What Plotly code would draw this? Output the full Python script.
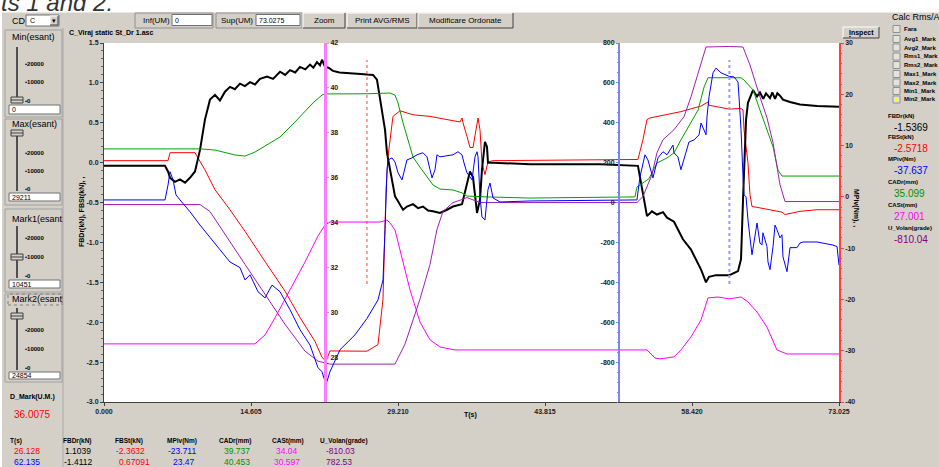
import plotly.graph_objects as go

FONT = "Liberation Sans, Arial, sans-serif"

# ---------------- data ----------------
T_MAX = 73.025
MARK1_T = 26.128
MARK2_T = 62.135
X_TICKS = [0.0, 14.605, 29.210, 43.815, 58.420, 73.025]

# (time s, value) samples per channel
FBDR = [(0, -0.04), (4.57, -0.04), (6.06, -0.04), (6.36, -0.11), (6.56, -0.19), (7.05, -0.24), (7.55, -0.21),
        (8.05, -0.25), (8.54, -0.19), (9.04, -0.11), (9.54, 0.16), (10.03, 0.54), (10.53, 0.79), (11.03, 0.85),
        (11.52, 0.78), (12.02, 0.89), (12.52, 0.95), (13.0, 0.92), (13.51, 0.99), (14.0, 0.96), (14.51, 1.01),
        (15.0, 0.98), (15.5, 1.05), (16.2, 1.08), (16.8, 1.05), (17.49, 1.14), (18.0, 1.10), (18.48, 1.16),
        (19.0, 1.13), (19.47, 1.2), (20.0, 1.17), (20.47, 1.23), (20.8, 1.19), (21.16, 1.26), (21.46, 1.22),
        (21.66, 1.29), (21.96, 1.2), (22.3, 1.19), (22.75, 1.15), (23.4, 1.13), (24.14, 1.12), (25.5, 1.11),
        (26.128, 1.1039), (26.73, 1.1), (27.12, 1.04), (27.42, 0.82), (27.92, 0.41), (28.12, 0.12), (28.41, -0.09),
        (28.91, -0.42), (29.71, -0.59), (30.10, -0.55), (30.70, -0.52), (31.2, -0.57), (31.69, -0.55), (32.2, -0.6),
        (32.69, -0.61), (33.38, -0.63), (34.08, -0.59), (34.67, -0.55), (35.57, -0.52), (35.87, -0.37),
        (36.36, -0.11), (36.66, -0.18), (37.06, -0.63), (37.36, -0.46), (37.55, -0.09), (37.85, 0.26), (38.05, 0.2),
        (38.15, 0.0), (38.65, 0.0), (42.32, -0.02), (49.28, -0.02), (53.05, -0.04), (53.55, -0.4), (53.95, -0.67),
        (54.44, -0.61), (54.94, -0.65), (55.54, -0.62), (55.94, -0.69), (56.63, -0.74), (57.52, -0.96),
        (58.32, -1.09), (59.32, -1.34), (59.81, -1.5), (60.11, -1.43), (60.80, -1.41), (62.135, -1.4112),
        (62.99, -1.36), (63.29, -1.21), (63.49, -0.46), (63.79, 0.54), (63.98, 0.75), (64.48, 0.91), (64.88, 0.83),
        (65.17, 0.88), (65.5, 0.8), (65.77, 0.87), (66.17, 0.81), (66.4, 0.88), (66.67, 0.80), (66.9, 0.87),
        (67.16, 0.84), (67.46, 0.79), (68.16, 0.76), (69.15, 0.73), (70.84, 0.71), (73.025, 0.70)]

FBST = [(0, 0.025), (6.36, 0.025), (6.56, 0.125), (9.04, 0.125), (10.03, -0.09), (11.03, -0.34), (12.52, -0.59),
        (14.01, -0.86), (16.0, -1.24), (17.98, -1.61), (19.47, -1.94), (20.96, -2.24), (21.66, -2.44),
        (22.06, -2.49), (22.45, -2.36), (23.94, -2.36), (26.128, -2.3632), (27.22, -2.28), (27.72, -1.71),
        (28.02, -0.34), (28.22, 0.08), (28.71, 0.58), (29.41, 0.65), (30.70, 0.6), (32.39, 0.58), (34.08, 0.54),
        (35.37, 0.51), (35.57, 0.56), (35.67, 0.5), (36.06, 0.33), (36.36, 0.19), (36.66, 0.19), (37.06, 0.45),
        (37.16, 0.56), (37.36, 0.41), (37.55, 0.0), (37.85, -0.15), (38.15, 0.01), (38.65, 0.025), (53.05, 0.04),
        (53.55, 0.29), (53.95, 0.54), (54.24, 0.56), (57.32, 0.64), (59.32, 0.71), (60.01, 0.76), (60.11, 0.72),
        (62.135, 0.67091), (63.29, 0.68), (63.49, 0.66), (63.59, 0.41), (63.98, 0.0), (64.18, -0.40),
        (64.38, -0.55), (64.88, -0.56), (66.17, -0.59), (67.36, -0.62), (67.66, -0.65), (69.15, -0.61),
        (70.84, -0.59), (73.025, -0.59)]

MPIV = [(0, -0.6), (6.06, -0.6), (6.36, 2.3), (6.56, 4.9), (6.86, 3.3), (7.15, 0.4), (7.55, -0.6), (8.54, -2.9),
        (9.54, -5.5), (10.53, -8.0), (11.52, -10.3), (12.52, -12.7), (13.51, -13.8), (14.01, -16.2),
        (14.51, -15.2), (15.30, -18.5), (16.0, -19.7), (16.69, -17.2), (17.49, -18.5), (18.48, -22.0),
        (19.47, -25.9), (20.47, -28.9), (21.26, -33.3), (21.66, -34.1), (22.06, -36.6), (22.45, -34.1),
        (23.45, -29.8), (24.94, -26.9), (26.128, -23.711), (27.22, -20.1), (27.72, -16.2), (27.92, -6.4),
        (28.02, 0.0), (28.12, 5.3), (28.22, 7.2), (28.61, 7.6), (28.91, 6.8), (29.21, 4.7), (29.61, 3.3),
        (29.90, 5.8), (30.10, 7.2), (30.60, 7.6), (31.10, 8.2), (31.69, 8.6), (32.09, 7.8), (32.39, 5.3),
        (32.59, 3.7), (32.89, 5.3), (33.08, 8.2), (33.38, 7.8), (34.67, 8.2), (35.17, 8.8), (35.57, 8.2),
        (35.77, 6.6), (36.06, 4.7), (36.36, 3.9), (36.56, 3.3), (36.86, 7.8), (37.06, 8.8), (37.16, 7.8),
        (37.36, 0.0), (37.55, -3.9), (37.85, -4.5), (38.15, 1.4), (38.35, 2.7), (38.65, -0.2), (39.34, -1.0),
        (42.32, -0.8), (52.95, -0.6), (53.25, 3.9), (53.75, 8.2), (54.04, 7.2), (54.44, 3.9), (54.54, 3.7),
        (55.04, 7.6), (55.54, 8.8), (55.94, 8.2), (56.53, 10.1), (56.63, 8.6), (57.02, 7.8), (57.32, 5.3),
        (57.62, 7.2), (58.12, 10.7), (58.62, 11.1), (59.12, 12.1), (59.32, 14.4), (59.81, 12.1), (59.91, 15.6),
        (60.11, 19.5), (60.51, 24.2), (60.80, 25.1), (61.30, 24.2), (62.135, 23.47), (62.59, 23.4),
        (62.99, 22.4), (63.09, 19.5), (63.29, 13.1), (63.49, 3.9), (63.59, 0.4), (63.79, 0.0), (63.98, -4.5),
        (64.38, -11.3), (64.68, -7.8), (64.88, -5.1), (65.17, -9.0), (65.37, -9.4), (65.47, -7.0),
        (65.87, -9.7), (65.97, -12.7), (66.17, -14.2), (66.47, -9.7), (66.67, -5.5), (66.86, -6.4),
        (67.16, -8.0), (67.36, -7.4), (67.46, -11.7), (67.86, -14.6), (68.16, -9.9), (68.85, -9.9),
        (69.15, -9.0), (69.45, -8.8), (70.84, -8.8), (72.43, -9.4), (72.83, -9.7), (73.025, -13.3)]

CADR = [(0, 37.28), (9.54, 37.28), (11.03, 37.23), (13.01, 37.01), (14.01, 36.96), (15.0, 37.14), (16.0, 37.41),
        (17.49, 37.81), (19.17, 38.57), (20.76, 39.33), (21.66, 39.68), (21.96, 39.73), (26.128, 39.737),
        (28.41, 39.77), (28.91, 39.68), (29.21, 39.33), (29.71, 38.44), (30.20, 37.68), (30.70, 36.92),
        (31.39, 36.47), (32.09, 36.03), (32.69, 35.67), (33.38, 35.49), (34.67, 35.45), (35.57, 35.32),
        (36.06, 35.18), (38.05, 35.14), (42.32, 35.09), (52.75, 35.14), (52.95, 35.58), (54.14, 35.95),
        (54.94, 36.65), (55.94, 36.88), (56.63, 37.1), (57.32, 37.68), (58.32, 38.44), (59.02, 39.01),
        (59.62, 40.04), (60.01, 40.45), (62.135, 40.453), (63.29, 40.45), (63.59, 40.35), (64.18, 40.04),
        (64.48, 39.91), (65.17, 39.01), (65.87, 38.12), (66.47, 37.37), (66.96, 36.34), (67.36, 36.07),
        (73.025, 36.07)]

CAST = [(0, 28.59), (15.0, 28.59), (16.0, 28.99), (16.99, 29.75), (18.48, 31.0), (19.97, 32.24), (21.26, 33.40),
        (21.96, 33.89), (22.45, 34.02), (26.128, 34.04), (27.42, 34.02), (28.12, 34.11), (28.41, 33.98),
        (28.91, 33.67), (29.41, 32.78), (30.40, 31.0), (31.39, 29.57), (32.39, 28.77), (33.38, 28.45),
        (34.87, 28.32), (53.95, 28.32), (54.74, 27.96), (55.24, 27.92), (56.63, 28.01), (57.32, 28.32),
        (58.32, 28.9), (59.32, 29.66), (60.01, 30.64), (61.0, 30.68), (62.135, 30.597), (63.29, 30.68),
        (63.98, 30.46), (64.88, 30.01), (65.87, 29.34), (66.86, 28.32), (67.86, 28.14), (73.025, 28.14)]

UVOLAN = [(0, -10), (9.54, -10), (10.53, -45), (12.02, -160), (14.01, -310), (16.0, -460), (17.98, -610),
          (19.97, -745), (21.26, -795), (22.45, -810), (26.128, -810.03), (28.91, -810), (29.90, -710),
          (31.39, -485), (32.39, -310), (33.08, -135), (33.68, -45), (34.67, 0), (35.57, 15), (36.06, 25),
          (37.36, 0), (42.32, 0), (52.95, 0), (53.55, 30), (54.24, 115), (54.44, 140), (54.94, 250),
          (55.54, 315), (56.63, 365), (57.62, 430), (58.32, 530), (59.02, 650), (59.81, 780), (62.135, 782.53),
          (63.49, 780), (63.79, 740), (64.18, 690), (65.17, 530), (65.87, 425), (66.47, 300), (66.96, 165),
          (67.16, 90), (67.66, 5), (73.025, 5)]

HEADERS = ["T(s)", "FBDr(kN)", "FBSt(kN)", "MPiv(Nm)", "CADr(mm)", "CASt(mm)", "U_Volan(grade)"]
ROW_MARK1 = ["26.128", "1.1039", "-2.3632", "-23.711", "39.737", "34.04", "-810.03"]
ROW_MARK2 = ["62.135", "-1.4112", "0.67091", "23.47", "40.453", "30.597", "782.53"]
INSPECT_NAMES = ["FBDr(kN)", "FBSt(kN)", "MPiv(Nm)", "CADr(mm)", "CASt(mm)", "U_Volan(grade)"]
INSPECT_VALUES = ["-1.5369", "-2.5718", "-37.637", "35.099", "27.001", "-810.04"]
CALC_OPTIONS = ["Fara", "Avg1_Mark", "Avg2_Mark", "Rms1_Mark", "Rms2_Mark", "Max1_Mark", "Max2_Mark",
                "Min1_Mark", "Min2_Mark"]

# ---------------- styling ----------------
BG = "#d4d0c8"
C_BLACK = "#000000"
C_RED = "#ff0000"
C_BLUE = "#0000ff"
C_GREEN = "#00a000"
C_MAG = "#ff00ff"
C_PURPLE = "#a020b0"
COL_COLORS = [None, C_BLACK, C_RED, C_BLUE, "#009000", C_MAG, "#800080"]

# plot area in pixels
L, R, T, B = 104, 839, 43, 402
W, H = R - L, B - T


def fx(x):
    return (x - L) / W


def fy(y):
    return (B - y) / H


shapes = []
ann = []


def box(x0, y0, x1, y1, fill=None, line=None, lw=1, dash="solid"):
    shapes.append(dict(type="rect", xref="paper", yref="paper", x0=fx(x0), x1=fx(x1), y0=fy(y1), y1=fy(y0),
                       fillcolor=fill or "rgba(0,0,0,0)",
                       line=dict(color=line or "rgba(0,0,0,0)", width=lw if line else 0, dash=dash)))


def seg(x0, y0, x1, y1, color, lw=1, dash="solid"):
    shapes.append(dict(type="line", xref="paper", yref="paper", x0=fx(x0), x1=fx(x1), y0=fy(y0), y1=fy(y1),
                       line=dict(color=color, width=lw, dash=dash)))


def label(x, y, s, size=8, color="black", anchor="left", bold=False, angle=0, italic=False):
    ann.append(dict(xref="paper", yref="paper", x=fx(x), y=fy(y), text=s, showarrow=False, xanchor=anchor,
                    yanchor="middle", textangle=angle, borderpad=0,
                    font=dict(family=FONT, size=size, color=color, weight=700 if bold else 400,
                              style="italic" if italic else "normal")))


def button(x0, y0, x1, y1):
    box(x0, y0, x1, y1, fill=BG)
    seg(x0, y0, x1, y0, "#ffffff")
    seg(x0, y0, x0, y1, "#ffffff")
    seg(x0, y1, x1, y1, "#404040")
    seg(x1, y0, x1, y1, "#404040")


def textbox(x0, y0, x1, y1, s):
    box(x0, y0, x1, y1, fill="#ffffff", line="#707070")
    label(x0 + 2, (y0 + y1) / 2, s, size=7)


def group(x0, y0, x1, y1):
    box(x0, y0, x1, y1, line="#a0a0a0")


def slider(x, y_top, y_bot, thumb_y, ticks):
    seg(x, y_top, x, y_bot, "#505050", lw=2)
    box(x - 6, thumb_y - 3, x + 6, thumb_y + 3, fill=BG, line="#404040")
    seg(x - 6, thumb_y, x + 6, thumb_y, "#404040")
    for ty, tx in ticks:
        label(24, ty, "\u2022" + tx, size=6, bold=True)


# ---------------- window chrome ----------------
box(0, 0, 939, 12.5, fill="#ffffff")
box(0, 0, 2, 467, fill="#ffffff")
label(0, 3, "ts 1 and 2.", size=24, color="#333333", italic=True, anchor="left")

# top toolbar
box(135, 13, 213, 28, fill=BG, line="#909090")
label(142, 20.5, "Inf(UM)", size=8)
textbox(172, 14.5, 212, 25.5, "0")
box(216, 13, 302, 28, fill=BG, line="#909090")
label(220, 20.5, "Sup(UM)", size=8)
textbox(256, 14.5, 300, 25.5, "73.0275")
for bx0, bx1, txt in [(303, 345, "Zoom"), (347, 417, "Print AVG/RMS"), (418, 513, "Modificare Ordonate")]:
    button(bx0, 13, bx1, 28)
    label((bx0 + bx1) / 2, 20.5, txt, size=8, anchor="center")

# left control panel
label(11, 21, "CD", size=9)
box(26, 15, 59, 26, fill="#ffffff", line="#707070")
label(29, 20.5, "C", size=7)
button(50, 16, 58, 25)
label(54, 20.5, "\u25be", size=7, anchor="center")
seg(63, 28, 63, 467, "#a8a8a8")

group(5, 30, 62, 117)
label(11, 37, "Min(esant)", size=9)
slider(17, 47, 103, 100, [(64, "20000"), (82, "10000"), (101, "0")])
textbox(9, 105, 60, 114, "0")

group(5, 119, 62, 205)
label(11, 124, "Max(esant)", size=9)
slider(17, 130, 191, 133, [(153, "20000"), (171, "10000"), (189, "0")])
textbox(9, 193, 60, 201, "29211")

group(5, 209, 62, 292)
label(11, 219, "Mark1(esant", size=9)
slider(17, 226, 278, 257, [(238, "20000"), (257, "10000"), (276, "0")])
textbox(9, 280, 60, 288, "10451")

group(5, 294, 62, 382)
box(8, 294, 62, 305, line="#808080", dash="dot")
label(11, 299, "Mark2(esant", size=9)
slider(17, 308, 370, 316, [(330, "20000"), (349, "10000"), (368, "0")])
textbox(9, 372, 60, 379, "24854")

label(9, 397, "D_Mark(U.M.)", size=7, bold=True)
label(13, 414, "36.0075", size=10, color=C_RED)

# bottom table of marker values
head_x = [9, 62, 114, 166, 218, 271, 319]
r1_x = [13, 64, 115, 167, 223, 275, 325]
r2_x = [13, 63, 118, 172, 223, 273, 325]
for i, h in enumerate(HEADERS):
    label(head_x[i], 440.5, h, size=6.5, bold=True)
    label(r1_x[i], 451, ROW_MARK1[i], size=8.5, color=COL_COLORS[i] or C_RED)
    label(r2_x[i], 461.5, ROW_MARK2[i], size=8.5, color=COL_COLORS[i] or C_BLUE)

# right panel
button(843, 27, 879, 38)
label(861, 32.5, "<u>I</u>nspect", size=7, bold=True, anchor="center")
label(891, 17, "Calc Rms/Avg", size=9)
opt_y = [29, 39, 47.5, 56.5, 65, 74, 82.5, 91, 99.5]
for oy, name in zip(opt_y, CALC_OPTIONS):
    box(893, oy - 3.5, 900, oy + 3.5, fill="#e4e2dc", line="#909090")
    label(903, oy, name, size=6, bold=True)
box(895, 97.5, 898, 101.5, fill="#ffff00")
ins_y = [116, 137, 159, 182, 205, 228]
ins_c = [C_BLACK, C_RED, C_BLUE, "#009000", C_MAG, "#800080"]
for iy, nm, val, col in zip(ins_y, INSPECT_NAMES, INSPECT_VALUES, ins_c):
    label(887, iy, nm, size=6, bold=True)
    label(893, iy + 11, val, size=10, color=col)

# chart caption and axis titles
label(68, 33, "C_Viraj static St_Dr 1.asc", size=7, bold=True)
label(82, 212, "FBDr(kN), FBSt(kN), ,", size=7, bold=True, angle=-90, anchor="center")
label(856, 208, "MPiv(Nm), ,", size=7, bold=True, angle=90, anchor="center")
label(470, 415, "T(s)", size=7, bold=True, anchor="center")

# marker cursors
for t_mark, col, w in [(MARK1_T, "#ff4040", 1), (MARK2_T, "#9a9aff", 2)]:
    shapes.append(dict(type="line", xref="x", yref="paper", x0=t_mark, x1=t_mark, y0=fy(284), y1=fy(60),
                       line=dict(color=col, width=w, dash="dot")))

# ---------------- traces ----------------
fig = go.Figure()


def add(series, color, axis, width=1):
    fig.add_trace(go.Scatter(x=[p[0] for p in series], y=[p[1] for p in series], mode="lines",
                             line=dict(color=color, width=width), yaxis=axis, showlegend=False,
                             hoverinfo="skip"))


add(FBST, C_RED, "y")
add(FBDR, C_BLACK, "y", width=2)
add(CADR, C_GREEN, "y2")
add(CAST, C_MAG, "y2")
add(UVOLAN, C_PURPLE, "y3")
add(MPIV, C_BLUE, "y4")

tickfont = dict(family=FONT, size=7, color="#202020", weight=700)


def fmt(v, d):
    return f"{v:.{d}f}"


left_vals = [-3.0 + 0.5 * i for i in range(10)]
mag_vals = list(range(28, 43, 2))
blue_vals = list(range(-800, 801, 200))
red_vals = list(range(-40, 31, 10))

fig.update_layout(
    width=939, height=467,
    margin=dict(l=L, r=939 - R, t=T, b=467 - B, pad=0),
    paper_bgcolor=BG, plot_bgcolor="#ffffff",
    xaxis=dict(range=[0, T_MAX], tickvals=X_TICKS, ticktext=[fmt(v, 3) for v in X_TICKS], showgrid=False,
               zeroline=False, showline=True, linecolor="#404040", linewidth=1, ticks="outside", ticklen=3,
               tickcolor="#404040", tickfont=tickfont),
    yaxis=dict(range=[-3.0, 1.5], tickvals=left_vals, ticktext=[fmt(v, 1) for v in left_vals], showgrid=False,
               zeroline=False, showline=True, linecolor="#404040", linewidth=1, ticks="outside", ticklen=3,
               tickcolor="#404040", tickfont=tickfont,
               minor=dict(tickmode="linear", tick0=0, dtick=0.1, ticks="outside", ticklen=2,
                          tickcolor="#606060")),
    yaxis2=dict(range=[26, 42], overlaying="y", anchor="free", position=fx(325), side="right",
                tickvals=mag_vals, ticktext=[str(v) for v in mag_vals], showgrid=False, zeroline=False,
                showline=True, linecolor="#ff7aff", linewidth=3, ticks="outside", ticklen=2, tickcolor="#ff80ff",
                tickfont=tickfont),
    yaxis3=dict(range=[-1000, 800], overlaying="y", anchor="free", position=fx(619), side="left",
                tickvals=blue_vals, ticktext=[str(v) for v in blue_vals], showgrid=False, zeroline=False,
                showline=True, linecolor="#8080ff", linewidth=2, ticks="outside", ticklen=2, tickcolor="#8080ff",
                tickfont=tickfont,
                minor=dict(tickmode="linear", tick0=0, dtick=50, ticks="outside", ticklen=1,
                           tickcolor="#8080ff")),
    yaxis4=dict(range=[-40, 30], overlaying="y", anchor="x", side="right",
                tickvals=red_vals, ticktext=[str(v) for v in red_vals], showgrid=False, zeroline=False,
                showline=True, linecolor="#ff4040", linewidth=1.5, ticks="outside", ticklen=3,
                tickcolor="#ff4040", tickfont=tickfont,
                minor=dict(tickmode="linear", tick0=0, dtick=2, ticks="outside", ticklen=1,
                           tickcolor="#ff4040")),
    shapes=shapes,
    annotations=ann,
    showlegend=False,
)

fig.write_html("out.html")
